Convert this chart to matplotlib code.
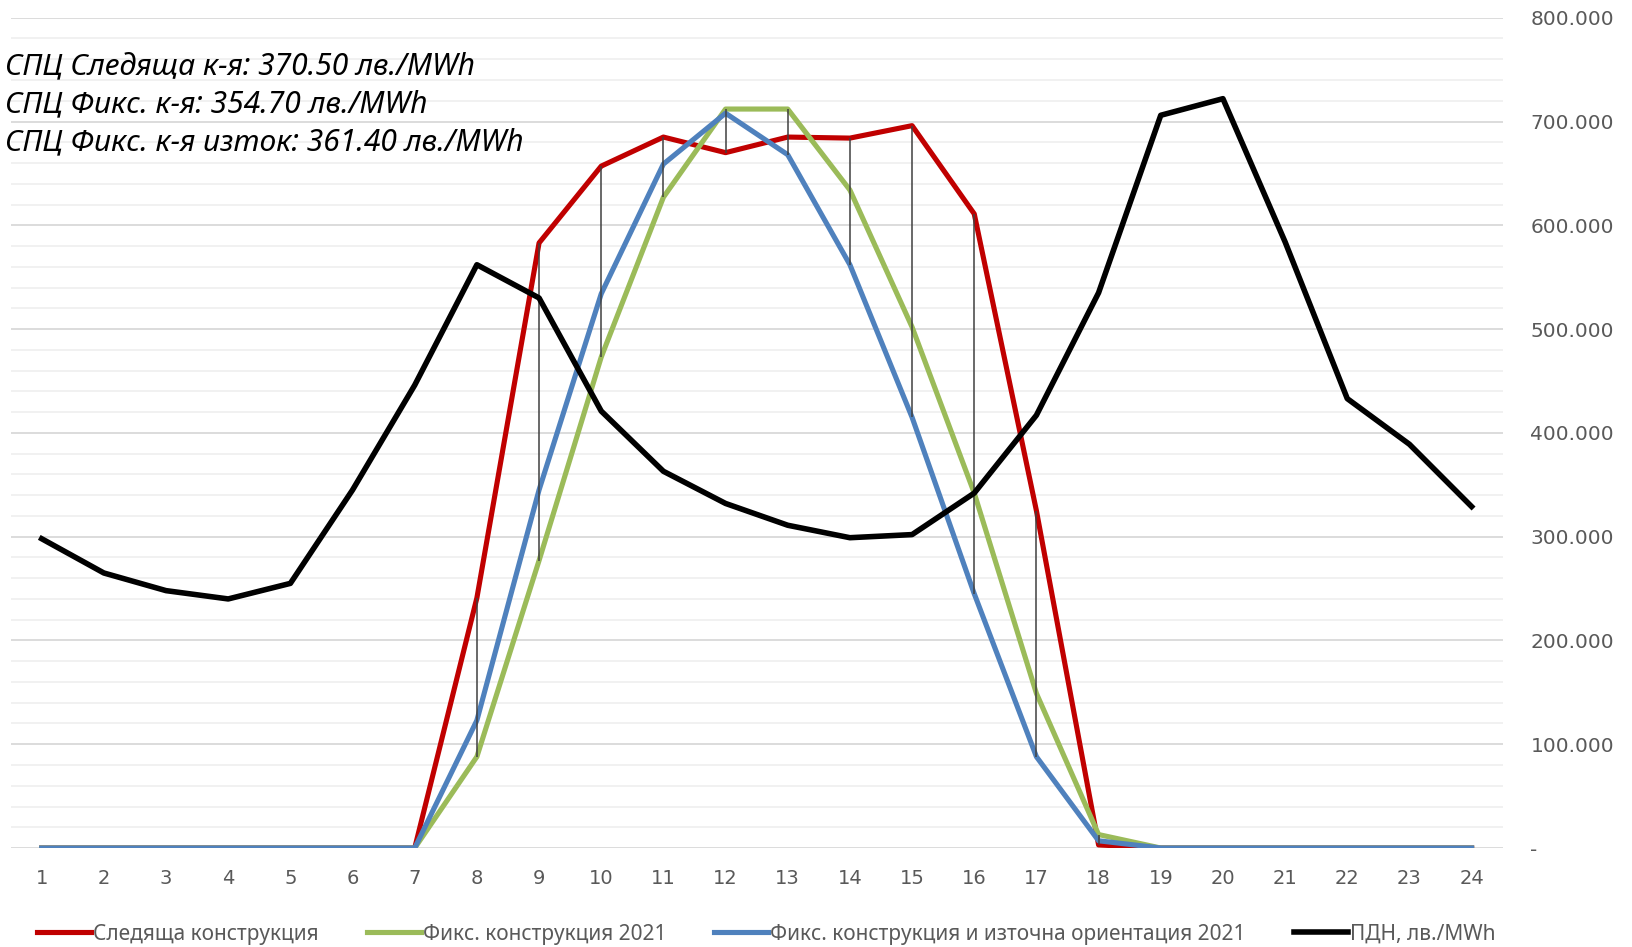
import numpy as np
import matplotlib
matplotlib.use('Agg')
import matplotlib.pyplot as plt
from matplotlib.ticker import MultipleLocator, FuncFormatter

hours = list(range(1, 25))

# solar production profiles (left unlabeled, same scale as price axis)
tracking = [0, 0, 0, 0, 0, 0, 0, 241, 583, 657, 685, 670, 685, 684, 696, 611, 325, 3, 0, 0, 0, 0, 0, 0]
fixed = [0, 0, 0, 0, 0, 0, 0, 88, 277, 473, 627, 712, 712, 634, 502, 342, 149, 13, 0, 0, 0, 0, 0, 0]
fixed_east = [0, 0, 0, 0, 0, 0, 0, 123, 345, 534, 659, 708, 668, 562, 415, 245, 88, 7, 0, 0, 0, 0, 0, 0]
# day-ahead price
price = [298, 265, 248, 240, 255, 345, 446, 562, 530, 421, 363, 332, 311, 299, 302, 342, 417, 535, 706, 722, 584, 433, 389, 329]

series_names = ["Следяща конструкция", "Фикс. конструкция 2021",
                "Фикс. конструкция и източна ориентация 2021", "ПДН, лв./MWh"]
colors = ["#C00000", "#9BBB59", "#4F81BD", "#000000"]

notes = ["СПЦ Следяща к-я: 370.50 лв./MWh",
         "СПЦ Фикс. к-я: 354.70 лв./MWh",
         "СПЦ Фикс. к-я изток: 361.40 лв./MWh"]

fig = plt.figure(figsize=(16.33, 9.47), dpi=100)
ax = fig.add_axes([0.0065, 0.1045, 0.9137, 0.8768])

ax.plot(hours, tracking, color=colors[0], lw=3.7, label=series_names[0], zorder=3)
ax.plot(hours, fixed, color=colors[1], lw=3.7, label=series_names[1], zorder=3)
ax.plot(hours, fixed_east, color=colors[2], lw=3.7, label=series_names[2], zorder=3)

# high-low lines between the three solar series
solar = np.array([tracking, fixed, fixed_east])
ax.vlines(hours, solar.min(axis=0), solar.max(axis=0), color="#404040", lw=1.1, zorder=4)

ax.plot(hours, price, color=colors[3], lw=4.0, label=series_names[3], zorder=5)

ax.set_xlim(0.5, 24.5)
ax.set_ylim(0, 800)
ax.set_xticks(hours)
ax.yaxis.set_major_locator(MultipleLocator(100))
ax.yaxis.set_minor_locator(MultipleLocator(20))
ax.yaxis.tick_right()
ax.yaxis.set_major_formatter(FuncFormatter(lambda v, p: "-" if v == 0 else f"{v:.3f}"))
ax.grid(axis='y', which='major', color='#d9d9d9', lw=1.3)
ax.grid(axis='y', which='minor', color='#f0f0f0', lw=1.3)
ax.set_axisbelow(True)
for s in ax.spines.values():
    s.set_visible(False)
ax.tick_params(axis='both', which='both', length=0, labelcolor='#595959')
ax.tick_params(axis='y', labelsize=14.5, pad=20)
ax.tick_params(axis='x', labelsize=14, pad=15)

for i, t in enumerate(notes):
    fig.text(0.003, 1 - (66 + i * 38) / 947, t, fontsize=21.6, style='italic',
             family='Noto Sans', va='center', ha='left', color='#000000')

leg = fig.legend(loc='center left', bbox_to_anchor=(0.011, 1 - 934 / 947), ncol=4, frameon=False,
                 handlelength=2.6, handletextpad=0.1, columnspacing=2.3,
                 prop={'family': 'Noto Sans', 'size': 15})
for t in leg.get_texts():
    t.set_color('#595959')

fig.savefig('out.png', dpi=100)
